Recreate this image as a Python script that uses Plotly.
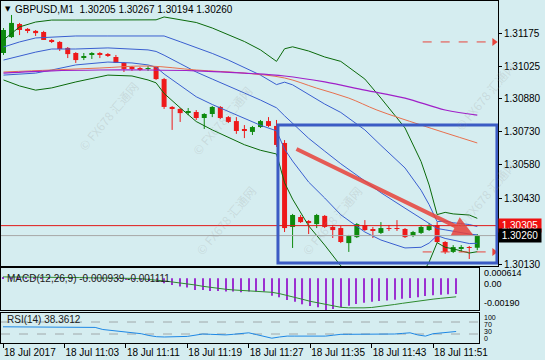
import plotly.graph_objects as go

# ---------------- data ----------------
bar_idx = list(range(60))  # 1-minute bars, 10:55 .. 11:54

open_ = [1.31086, 1.31158, 1.31217, 1.31195, 1.31186, 1.31181, 1.31145, 1.31136, 1.31109, 1.31086,
         1.31066, 1.31079, 1.31084, 1.31079, 1.31068, 1.31041, 1.31020, 1.31016, 1.31014, 1.31023,
         1.30968, 1.30842, 1.30833, 1.30817, 1.30819, 1.30792, 1.30810, 1.30842, 1.30796, 1.30778,
         1.30740, 1.30729, 1.30751, 1.30778, 1.30756, 1.30679, 1.30299, 1.30344, 1.30326, 1.30312,
         1.30349, 1.30299, 1.30294, 1.30226, 1.30253, 1.30308, 1.30287, 1.30272, 1.30294, 1.30294,
         1.30290, 1.30258, 1.30272, 1.30285, 1.30308, 1.30231, 1.30186, 1.30202, 1.30208, 1.30205]
high_ = [1.31199, 1.31258, 1.31222, 1.31199, 1.31190, 1.31186, 1.31149, 1.31140, 1.31113, 1.31090,
         1.31086, 1.31090, 1.31090, 1.31086, 1.31077, 1.31045, 1.31027, 1.31023, 1.31027, 1.31027,
         1.30973, 1.30846, 1.30837, 1.30837, 1.30828, 1.30814, 1.30846, 1.30846, 1.30801, 1.30796,
         1.30760, 1.30756, 1.30783, 1.30796, 1.30783, 1.30692, 1.30358, 1.30353, 1.30330, 1.30358,
         1.30353, 1.30308, 1.30303, 1.30263, 1.30317, 1.30330, 1.30299, 1.30321, 1.30308, 1.30330,
         1.30294, 1.30281, 1.30308, 1.30317, 1.30321, 1.30235, 1.30217, 1.30217, 1.30213, 1.30267]
low_ = [1.31077, 1.31154, 1.31167, 1.31176, 1.31163, 1.31145, 1.31131, 1.31095, 1.31063, 1.31041,
        1.31054, 1.31059, 1.31063, 1.31068, 1.31041, 1.31000, 1.31005, 1.31005, 1.31005, 1.30964,
        1.30833, 1.30738, 1.30774, 1.30805, 1.30783, 1.30742, 1.30796, 1.30787, 1.30769, 1.30720,
        1.30701, 1.30715, 1.30747, 1.30751, 1.30661, 1.30276, 1.30204, 1.30317, 1.30267, 1.30294,
        1.30294, 1.30249, 1.30226, 1.30186, 1.30249, 1.30281, 1.30249, 1.30267, 1.30281, 1.30281,
        1.30249, 1.30253, 1.30267, 1.30281, 1.30226, 1.30177, 1.30181, 1.30186, 1.30154, 1.30194]
close_ = [1.31190, 1.31222, 1.31190, 1.31186, 1.31176, 1.31145, 1.31140, 1.31104, 1.31081, 1.31054,
          1.31070, 1.31084, 1.31079, 1.31075, 1.31041, 1.31014, 1.31016, 1.31011, 1.31018, 1.30968,
          1.30842, 1.30833, 1.30814, 1.30821, 1.30792, 1.30810, 1.30842, 1.30792, 1.30774, 1.30733,
          1.30735, 1.30751, 1.30778, 1.30756, 1.30670, 1.30294, 1.30353, 1.30321, 1.30317, 1.30353,
          1.30299, 1.30285, 1.30231, 1.30258, 1.30312, 1.30285, 1.30283, 1.30294, 1.30290, 1.30290,
          1.30253, 1.30276, 1.30299, 1.30303, 1.30231, 1.30186, 1.30208, 1.30206, 1.30204, 1.30260]

# Bollinger bands (green = 2 dev, blue = 1 dev + middle)
band_idx = [0, 2, 4, 6, 9, 13, 16, 18, 19, 20, 22, 24, 26, 28, 30, 32, 34, 35, 36, 38, 40, 42, 45, 47,
            50, 52, 53, 54, 55, 56, 57, 58, 59]
bb_green_upper = [1.31145, 1.31204, 1.31226, 1.31235, 1.31235, 1.31235, 1.31235, 1.31235, 1.31236, 1.31249,
                  1.31237, 1.31224, 1.31199, 1.31170, 1.31138, 1.31100, 1.31048, 1.31105, 1.31114, 1.31095,
                  1.31068, 1.31048, 1.30968, 1.30882, 1.30747, 1.30595, 1.30489, 1.30355, 1.30365, 1.30358,
                  1.30355, 1.30353, 1.30338]
bb_blue_upper = [1.31113, 1.31136, 1.31154, 1.31158, 1.31163, 1.31163, 1.31163, 1.31163, 1.31164, 1.31163,
                 1.31137, 1.31112, 1.31084, 1.31054, 1.31021, 1.30986, 1.30943, 1.30954, 1.30942, 1.30898,
                 1.30855, 1.30817, 1.30738, 1.30668, 1.30566, 1.30465, 1.30400, 1.30323, 1.30326, 1.30318,
                 1.30314, 1.30310, 1.30301]
bb_middle = [1.31054, 1.31072, 1.31090, 1.31104, 1.31104, 1.31109, 1.31104, 1.31100, 1.31093, 1.31076,
             1.31038, 1.31000, 1.30968, 1.30938, 1.30905, 1.30873, 1.30838, 1.30802, 1.30769, 1.30700,
             1.30642, 1.30585, 1.30507, 1.30454, 1.30384, 1.30336, 1.30313, 1.30292, 1.30286, 1.30279,
             1.30273, 1.30267, 1.30263]
bb_blue_lower = [1.30986, 1.30991, 1.30995, 1.31009, 1.31032, 1.31045, 1.31041, 1.31032, 1.31022, 1.30991,
                 1.30938, 1.30888, 1.30853, 1.30821, 1.30788, 1.30759, 1.30734, 1.30651, 1.30597, 1.30502,
                 1.30430, 1.30354, 1.30276, 1.30240, 1.30204, 1.30207, 1.30226, 1.30260, 1.30247, 1.30240,
                 1.30232, 1.30224, 1.30225]
bb_green_lower = [1.30964, 1.30937, 1.30918, 1.30928, 1.30955, 1.30986, 1.30982, 1.30964, 1.30951, 1.30903,
                  1.30838, 1.30776, 1.30738, 1.30705, 1.30671, 1.30646, 1.30629, 1.30499, 1.30425, 1.30304,
                  1.30217, 1.30123, 1.30045, 1.30026, 1.30023, 1.30077, 1.30140, 1.30228, 1.30207, 1.30200,
                  1.30191, 1.30181, 1.30187]

ma_orange_idx = [0, 6, 12, 18, 24, 30, 35, 39, 43, 46.5, 52, 59]
ma_orange = [1.31000, 1.31009, 1.31018, 1.31027, 1.31009, 1.30995, 1.30973, 1.30927, 1.30882, 1.30828,
             1.30760, 1.30679]
ma_purple_idx = [0, 6, 12, 18, 24, 30, 35, 40, 45, 50, 55, 59]
ma_purple = [1.30995, 1.31005, 1.31009, 1.31009, 1.31005, 1.30995, 1.30982, 1.30955, 1.30918, 1.30882,
             1.30828, 1.30805]

macd_main = [0.00006, 0.00008, 0.00008, 0.00007, 0.00006, 0.00005, 0.00004, 0.00003, 0.00002, 0.00001,
             0.0, -0.00001, -0.00002, -0.00003, -0.00004, -0.00005, -0.00007, -0.00009, -0.00012,
             -0.00016, -0.00020, -0.00030, -0.00040, -0.00050, -0.00056, -0.00070, -0.00070, -0.00076,
             -0.00076, -0.00080, -0.00080, -0.00084, -0.00080, -0.00080, -0.00080, -0.00104, -0.00114,
             -0.00130, -0.00140, -0.00156, -0.00166, -0.00174, -0.00190, -0.00184, -0.00174, -0.00164,
             -0.00154, -0.00146, -0.00140, -0.00136, -0.00133, -0.00128, -0.00122, -0.00118, -0.00114,
             -0.00106, -0.00102, -0.00099, -0.00096, -0.000939]
macd_signal = [0.00008, 0.00008, 0.00008, 0.00007, 0.00007, 0.00006, 0.00006, 0.00005, 0.00005, 0.00004,
               0.00004, 0.00003, 0.00003, 0.00002, 0.00002, 0.00001, 0.0, -0.00001, -0.00003,
               -0.00006, -0.00010, -0.00016, -0.00022, -0.00027, -0.00032, -0.00040, -0.00048, -0.00055,
               -0.00061, -0.00066, -0.00070, -0.00073, -0.00076, -0.00078, -0.00080, -0.00084, -0.00092,
               -0.00102, -0.00114, -0.00126, -0.00138, -0.00148, -0.00156, -0.00166, -0.00174, -0.00177,
               -0.00178, -0.00177, -0.00175, -0.00170, -0.00164, -0.00157, -0.00150, -0.00143, -0.00136,
               -0.00130, -0.00125, -0.00120, -0.00115, -0.001111]
rsi14 = [54, 54, 54, 54, 54, 54, 54, 54, 54, 53, 53, 53, 52,
         45, 42, 40, 37, 34, 31, 25, 21, 20, 20, 21, 22, 26, 30, 29, 27, 27, 29, 32, 34, 28, 22, 16, 20,
         23, 23, 23, 23, 23, 23, 26, 29, 29, 29, 29, 29, 29, 29, 30, 32, 34, 27, 23, 31, 33, 35, 38.36]

time_tick_idx = [0, 8, 16, 24, 32, 40, 48, 56]
time_tick_text = ["18 Jul 2017", "18 Jul 11:03", "18 Jul 11:11", "18 Jul 11:19",
                  "18 Jul 11:27", "18 Jul 11:35", "18 Jul 11:43", "18 Jul 11:51"]
price_ticks = [1.31175, 1.31025, 1.30880, 1.30730, 1.30580, 1.30430, 1.30130]

level_line = 1.30305
bid_line = 1.30260
target_top = 1.31136
target_bottom = 1.30186
arrow_from = (36.3, 1.30655)
arrow_to = (58.5, 1.30263)
box_x = (34.18, 61.45)
box_y = (1.30136, 1.30760)

# ---------------- styling ----------------
BG = '#D5EDF0'
RED = '#EE1A1A'
GREEN = '#0E8A0E'
BB_GREEN = '#0A6A0A'
BB_BLUE = '#3A5FD0'
FONT = 'Liberation Sans'

fig = go.Figure()

# wicks
for colr, is_up in ((RED, False), (GREEN, True)):
    xs, ys = [], []
    for i, (o, h, l, c) in enumerate(zip(open_, high_, low_, close_)):
        if (c > o) == is_up:
            xs += [i, i, None]
            ys += [l, h, None]
    fig.add_trace(go.Scatter(x=xs, y=ys, mode='lines', line=dict(color=colr, width=1),
                             xaxis='x', yaxis='y', hoverinfo='skip'))

# bodies
body_base = [min(o, c) for o, c in zip(open_, close_)]
body_h = [max(abs(c - o), 0.00003) for o, c in zip(open_, close_)]
body_col = [GREEN if c > o else RED for o, c in zip(open_, close_)]
fig.add_trace(go.Bar(x=bar_idx, y=body_h, base=body_base, width=0.62,
                     marker=dict(color=body_col, line=dict(width=0)),
                     xaxis='x', yaxis='y', hoverinfo='skip'))

# indicator lines
for ys, colr in ((bb_green_upper, BB_GREEN), (bb_green_lower, BB_GREEN),
                 (bb_blue_upper, BB_BLUE), (bb_middle, BB_BLUE), (bb_blue_lower, BB_BLUE)):
    fig.add_trace(go.Scatter(x=band_idx, y=ys, mode='lines', line=dict(color=colr, width=1),
                             xaxis='x', yaxis='y', hoverinfo='skip'))
fig.add_trace(go.Scatter(x=ma_orange_idx, y=ma_orange, mode='lines',
                         line=dict(color='#E8704E', width=1, shape='spline'),
                         xaxis='x', yaxis='y', hoverinfo='skip'))
fig.add_trace(go.Scatter(x=ma_purple_idx, y=ma_purple, mode='lines',
                         line=dict(color='#A020C8', width=1.2, shape='spline'),
                         xaxis='x', yaxis='y', hoverinfo='skip'))

# target arrowheads for dashed lines
fig.add_trace(go.Scatter(x=[61.1, 61.1], y=[target_top, target_bottom], mode='markers',
                         marker=dict(symbol='triangle-right', size=7, color='#E8453C'),
                         xaxis='x', yaxis='y', cliponaxis=False, hoverinfo='skip'))

# MACD
fig.add_trace(go.Bar(x=bar_idx, y=macd_main, width=0.14, marker=dict(color='#9B2FD0', line=dict(width=0)),
                     xaxis='x2', yaxis='y2', hoverinfo='skip'))
fig.add_trace(go.Scatter(x=bar_idx, y=macd_signal, mode='lines', line=dict(color='#2E8B2E', width=1),
                         xaxis='x2', yaxis='y2', hoverinfo='skip'))

# RSI
fig.add_trace(go.Scatter(x=bar_idx, y=rsi14, mode='lines', line=dict(color='#1E88E5', width=1),
                         xaxis='x3', yaxis='y3', hoverinfo='skip'))

# ---------------- layout ----------------
main_bottom = 0.2251
macd_dom = [0.0965, 0.2193]
rsi_dom = [0.0, 0.0877]
sub_right = 0.9618

axis_common = dict(showgrid=False, zeroline=False, showline=True, mirror=True,
                   linecolor='#000000', linewidth=1, automargin=False)

fig.update_layout(
    width=545, height=360,
    margin=dict(l=1, r=47, t=1, b=17, autoexpand=False),
    paper_bgcolor=BG, plot_bgcolor=BG,
    showlegend=False, barmode='overlay',
    font=dict(family=FONT, size=10, color='#000000'),
    xaxis=dict(domain=[0, 1], range=[-0.311, 61.58], anchor='y', showticklabels=False, ticks='',
               **axis_common),
    yaxis=dict(domain=[main_bottom, 1], range=[1.301223, 1.313212], side='right', anchor='x',
               tickvals=price_ticks, ticktext=['%.5f' % v for v in price_ticks],
               ticks='outside', ticklen=3, tickcolor='#000000',
               tickfont=dict(family=FONT, size=10, color='#000000'), **axis_common),
    xaxis2=dict(domain=[0, sub_right], range=[-0.26, 61.98], anchor='y2', showticklabels=False,
                ticks='', **axis_common),
    yaxis2=dict(domain=macd_dom, range=[-0.0019, 0.000614], side='right', anchor='x2',
                showticklabels=False, ticks='', **axis_common),
    xaxis3=dict(domain=[0, sub_right], range=[-0.26, 61.98], anchor='y3',
                tickvals=time_tick_idx, ticktext=time_tick_text, ticks='outside', ticklen=4,
                tickcolor='#000000', ticklabelposition='outside right', tickangle=0,
                tickfont=dict(family=FONT, size=10, color='#000000'), **axis_common),
    yaxis3=dict(domain=rsi_dom, range=[0, 100], side='right', anchor='x3',
                showticklabels=False, ticks='', **axis_common),
)

shapes = [
    dict(type='line', xref='paper', x0=0, x1=1, yref='y', y0=level_line, y1=level_line,
         line=dict(color='#E01818', width=1), layer='above'),
    dict(type='line', xref='paper', x0=0, x1=1, yref='y', y0=bid_line, y1=bid_line,
         line=dict(color='#A8A8A8', width=1), layer='above'),
    dict(type='rect', xref='x', yref='y', x0=box_x[0], x1=box_x[1], y0=box_y[0], y1=box_y[1],
         line=dict(color='#3B5BC4', width=3), fillcolor='rgba(0,0,0,0)', layer='above'),
    dict(type='line', xref='x', yref='y', x0=52.2, x1=60.8, y0=target_top, y1=target_top,
         line=dict(color='#E8453C', width=1, dash='dash'), layer='above'),
    dict(type='line', xref='x', yref='y', x0=52.2, x1=60.8, y0=target_bottom, y1=target_bottom,
         line=dict(color='#E8453C', width=1, dash='dash'), layer='above'),
    dict(type='line', xref='x3 domain', x0=0, x1=1, yref='y3', y0=70, y1=70,
         line=dict(color='#A0A8AA', width=1, dash='dash'), layer='below'),
    dict(type='line', xref='x3 domain', x0=0, x1=1, yref='y3', y0=30, y1=30,
         line=dict(color='#A0A8AA', width=1, dash='dash'), layer='below'),
]
fig.update_layout(shapes=shapes)

ann = []
# big trend arrow
ann.append(dict(x=arrow_to[0], y=arrow_to[1], ax=arrow_from[0], ay=arrow_from[1],
                xref='x', yref='y', axref='x', ayref='y', showarrow=True, text='',
                arrowhead=2, arrowsize=1.0, arrowwidth=4, arrowcolor='rgba(232,66,58,0.85)'))
# title
ann.append(dict(xref='paper', yref='paper', x=0, y=1, xanchor='left', yanchor='top', xshift=2, yshift=-2,
                text='\u25BC', showarrow=False, font=dict(family='DejaVu Sans', size=7, color='#000000')))
ann.append(dict(xref='paper', yref='paper', x=0, y=1, xanchor='left', yanchor='top', xshift=12, yshift=-1,
                text='GBPUSD,M1\u00a0\u00a01.30205 1.30267 1.30194 1.30260', showarrow=False,
                font=dict(family=FONT, size=10, color='#000000')))
# current price labels
ann.append(dict(xref='paper', yref='y', x=1, y=level_line, xanchor='left', yanchor='middle',
                text='1.30305', showarrow=False, bgcolor='#EE1111', borderpad=1, width=40,
                font=dict(family=FONT, size=10, color='#FFFFFF')))
ann.append(dict(xref='paper', yref='y', x=1, y=bid_line, xanchor='left', yanchor='middle',
                text='1.30260', showarrow=False, bgcolor='#000000', borderpad=1, width=40,
                font=dict(family=FONT, size=10, color='#FFFFFF')))
# panel captions
ann.append(dict(xref='paper', yref='y2 domain', x=0, y=0.74, xanchor='left', yanchor='middle', xshift=4,
                text='MACD(12,26,9) -0.000939 -0.001111', showarrow=False,
                font=dict(family=FONT, size=10, color='#202020')))
ann.append(dict(xref='paper', yref='y3 domain', x=0, y=0.8, xanchor='left', yanchor='middle', xshift=4,
                text='RSI(14) 38.3612', showarrow=False, font=dict(family=FONT, size=10, color='#202020')))
# sub-window scale labels
for txt, yy in (('0.000614', 0.88), ('0.00', 0.63), ('-0.00190', 0.155)):
    ann.append(dict(xref='paper', yref='y2 domain', x=sub_right, y=yy, xanchor='left', yanchor='middle',
                    xshift=3, text=txt, showarrow=False, font=dict(family=FONT, size=9, color='#000000')))
for txt, yy in (('100', 0.85), ('70', 0.62), ('30', 0.38), ('0', 0.15)):
    ann.append(dict(xref='paper', yref='y3 domain', x=sub_right, y=yy, xanchor='left', yanchor='middle',
                    xshift=3, text=txt, showarrow=False, font=dict(family=FONT, size=7, color='#000000')))
# faint watermarks
for px, py in ((72, 75), (222, 80), (225, 220), (368, 220), (522, 55), (522, 235)):
    ann.append(dict(xref='paper', yref='paper', x=(px - 1) / 497, y=(343 - py) / 342,
                    text='\u00a9 FX678 \u6c47\u901a\u7f51', showarrow=False, textangle=-50,
                    font=dict(family='Noto Sans CJK SC', size=12, color='rgba(150,150,150,0.22)')))
fig.update_layout(annotations=ann)

fig.write_html('out.html')
